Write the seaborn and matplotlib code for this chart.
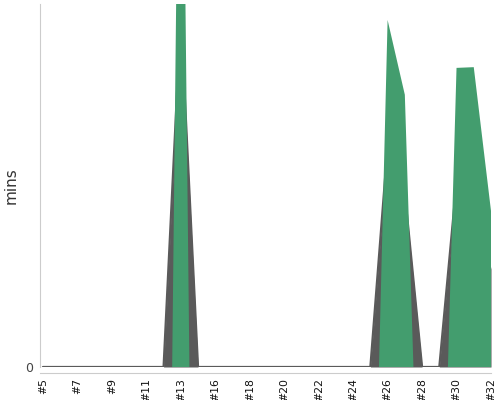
import numpy as np
import pandas as pd
import matplotlib
matplotlib.use("Agg")
import matplotlib.pyplot as plt
import seaborn as sns

# episodes on the x axis (#14 is the one missing between #13 and #16)
episodes = ["#5", "#6", "#7", "#8", "#9", "#10", "#11", "#12", "#13", "#14",
            "#16", "#17", "#18", "#19", "#20", "#21", "#22", "#23", "#24",
            "#25", "#26", "#27", "#28", "#29", "#30", "#31", "#32"]
shown_labels = ["#5", "#7", "#9", "#11", "#13", "#16", "#18", "#20", "#22",
                "#24", "#26", "#28", "#30", "#32"]

# minutes (top of the axis = 100)
grey_mins = [0, 0, 0, 0, 0, 0, 0, 0, 97, 0,
             0, 0, 0, 0, 0, 0, 0, np.nan, np.nan,
             0, 61, 48, 0, 0, 51, 51, 27]
green_mins = [0, 0, 0, 0, 0, 0, 0, 0, 218, 0,
              0, 0, 0, 0, 0, 0, 0, 0, 0,
              0, 95.6, 75, 0, 0, 82.4, 82.6, 43]

GREY = "#5a5a5a"
GREEN = "#439d6e"

sns.set_style("white")
plt.rcParams["font.family"] = ["DejaVu Sans"]

df = pd.DataFrame({"x": np.arange(len(episodes)), "grey": grey_mins, "green": green_mins})

# green area closes to zero half a step outside each non-zero run
gx, gy = [], []
g = df["green"].to_numpy()
last = len(g) - 1
for i, v in enumerate(g):
    if v > 0:
        if i == 0 or g[i - 1] == 0:
            gx.append(max(i - 0.5, 0)); gy.append(0)
        gx.append(i); gy.append(v)
        if i == last:
            gx.append(i); gy.append(0)
        elif g[i + 1] == 0:
            gx.append(i + 0.5); gy.append(0)
    else:
        gx.append(i); gy.append(0)

fig = plt.figure(figsize=(5, 4), dpi=100)
ax = fig.add_axes([0.08, 0.0825, 0.902, 0.9075])

sns.lineplot(data=df, x="x", y="grey", color=GREY, linewidth=1.6, ax=ax, zorder=1.5)
ax.fill_between(df["x"], 0, df["grey"].fillna(0), color=GREY, linewidth=0, zorder=1)
ax.fill_between(gx, 0, gy, color=GREEN, linewidth=0, zorder=3)

ax.set_xlim(-0.17, len(episodes) - 1)
ax.set_ylim(0, 100)

major = [episodes.index(l) for l in shown_labels]
ax.set_xticks(major)
ax.set_xticks(df["x"], minor=True)
ax.set_xticklabels(shown_labels)
ax.tick_params(axis="x", which="both", direction="out", length=3, width=0.8,
               color="#bbbbbb", pad=1, labelrotation=90, labelsize=7.8,
               labelcolor="#111111")
ax.set_yticks([0])
ax.set_yticklabels(["0"])
ax.tick_params(axis="y", direction="out", length=3, width=0.8, color="#bbbbbb",
               pad=2, labelsize=9, labelcolor="#444444")

ax.set_xlabel("")
ax.set_ylabel("mins", fontsize=11, color="#333333")
ax.yaxis.set_label_coords(-0.047, 0.5)

for side in ["top", "right"]:
    ax.spines[side].set_visible(False)
ax.spines["left"].set_color("#cccccc")
ax.spines["bottom"].set_color("#cccccc")
ax.spines["bottom"].set_position(("outward", 4))

fig.savefig("out.png", dpi=100)
